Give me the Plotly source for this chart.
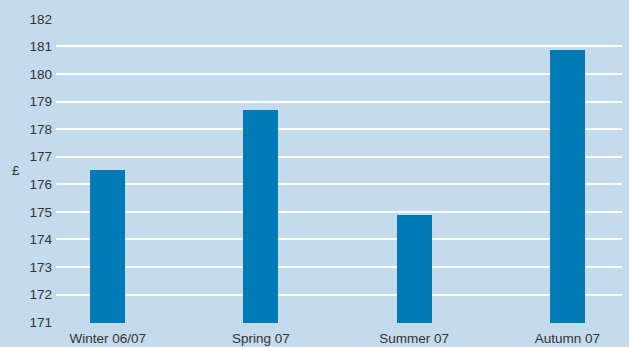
import plotly.graph_objects as go

# Average weekly spend by season
seasons = ["Winter 06/07", "Spring 07", "Summer 07", "Autumn 07"]
spend = [176.53, 178.71, 174.87, 180.88]
y_ticks = list(range(171, 183))

BG = "#c3dbed"
BAR = "#007bb6"
TEXT = "#333333"
FONT = "Liberation Sans"

positions = list(range(len(seasons)))

fig = go.Figure(
    go.Bar(
        x=positions,
        y=spend,
        width=0.229,
        marker=dict(color=BAR, line=dict(width=0)),
        hoverinfo="skip",
    )
)

fig.update_layout(
    width=629,
    height=347,
    paper_bgcolor=BG,
    plot_bgcolor=BG,
    margin=dict(l=56, r=7, t=18, b=24),
    showlegend=False,
    font=dict(family=FONT, size=13.5, color=TEXT),
    bargap=0,
)

fig.update_xaxes(
    tickmode="array",
    tickvals=positions,
    ticktext=seasons,
    range=[-0.337, 3.356],
    showgrid=False,
    zeroline=False,
    showline=False,
    ticks="",
    ticklabelstandoff=5,
    automargin=False,
)

fig.update_yaxes(
    tickmode="array",
    tickvals=y_ticks,
    ticktext=[str(v) for v in y_ticks],
    range=[170.97, 182.03],
    showgrid=True,
    gridcolor="white",
    gridwidth=1.6,
    zeroline=False,
    showline=False,
    ticks="",
    ticklabelstandoff=3,
    automargin=False,
)

fig.add_annotation(
    text="£",
    xref="paper",
    yref="paper",
    x=-0.07,
    y=0.5,
    xanchor="center",
    yanchor="middle",
    showarrow=False,
    font=dict(family=FONT, size=13.5, color=TEXT),
)

fig.write_html("out.html")
